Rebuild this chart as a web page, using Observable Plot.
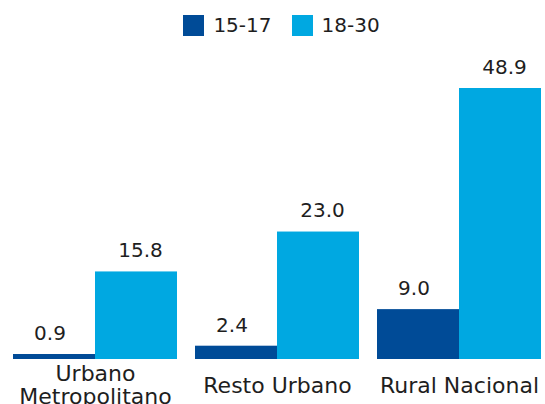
<!DOCTYPE html>
<html>
<head>
<meta charset="utf-8">
<script src="https://cdn.jsdelivr.net/npm/d3@7"></script>
<script src="https://cdn.jsdelivr.net/npm/@observablehq/plot@0.6"></script>
<style>
  html, body { margin: 0; padding: 0; background: #fff; }
  body { width: 545px; height: 404px; overflow: hidden; font-family: "DejaVu Sans", sans-serif; color: #1e1e1e; }
  #legend { height: 50px; display: flex; justify-content: center; align-items: center; padding-left: 18px; box-sizing: border-box; font-size: 20px; }
  .item { display: flex; align-items: center; margin: 0 10px; }
  .sw { width: 21px; height: 21px; margin-right: 9px; }
  svg { display: block; }
</style>
</head>
<body>
<div id="legend"></div>
<div id="chart"></div>
<script>
const categories = ["Urbano Metropolitano", "Resto Urbano", "Rural Nacional"];
const categoryLabels = ["Urbano\nMetropolitano", "Resto Urbano", "Rural Nacional"];
const series = ["15-17", "18-30"];
const values1517 = [0.9, 2.4, 9.0];
const values1830 = [15.8, 23.0, 48.9];
const colors = ["#004B97", "#00A8E1"];

const data = [];
categories.forEach((c, i) => {
  data.push({cat: c, series: series[0], value: values1517[i]});
  data.push({cat: c, series: series[1], value: values1830[i]});
});

// legend
const legend = document.getElementById("legend");
series.forEach((s, i) => {
  const item = document.createElement("div");
  item.className = "item";
  const sw = document.createElement("div");
  sw.className = "sw";
  sw.style.background = colors[i];
  const t = document.createElement("span");
  t.textContent = s;
  item.appendChild(sw);
  item.appendChild(t);
  legend.appendChild(item);
});

const labelData = categories.map((c, i) => ({cat: c, label: categoryLabels[i]}));

const chart = Plot.plot({
  width: 545,
  height: 354,
  marginLeft: 12,
  marginRight: 2,
  marginTop: 38,
  marginBottom: 45,
  style: {fontFamily: "DejaVu Sans, sans-serif", color: "#1e1e1e", background: "#fff"},
  fx: {domain: categories, paddingInner: 0.098, paddingOuter: 0, axis: null, label: null},
  x: {domain: series, padding: 0, axis: null, label: null},
  y: {domain: [0, d3.max(values1830)], nice: false, axis: null, label: null},
  color: {domain: series, range: colors},
  marks: [
    Plot.barY(data, {fx: "cat", x: "series", y: "value", fill: "series"}),
    Plot.text(data, {filter: d => d.series === series[0], fx: "cat", x: "series", y: "value", text: d => d.value.toFixed(1), dy: -21, dx: -4.5, fontSize: 20, fill: "#1e1e1e"}),
    Plot.text(data, {filter: d => d.series === series[1], fx: "cat", x: "series", y: "value", text: d => d.value.toFixed(1), dy: -21, dx: 4, fontSize: 20, fill: "#1e1e1e"}),
    Plot.text(labelData, {fx: "cat", text: "label", frameAnchor: "bottom", lineAnchor: "middle", dy: 26, fontSize: 22, lineHeight: 1.05, fill: "#1e1e1e"})
  ]
});
document.getElementById("chart").appendChild(chart);
</script>
</body>
</html>
